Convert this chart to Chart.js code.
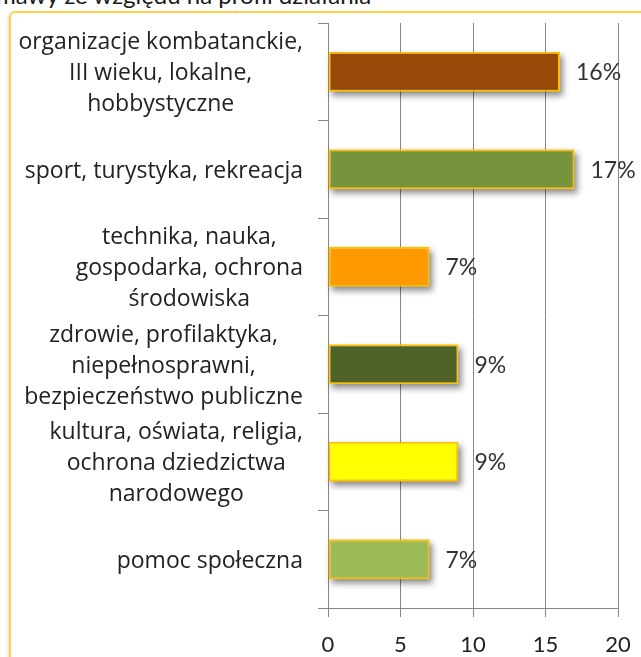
<!DOCTYPE html>
<html>
<head>
<meta charset="utf-8">
<script src="https://cdn.jsdelivr.net/npm/chart.js@4"></script>
<style>
  html, body { margin: 0; padding: 0; background: #fff; overflow: hidden; }
  #wrap { position: relative; width: 641px; height: 657px; overflow: hidden; }
  #title {
    position: absolute; left: -4px; top: -19px; white-space: nowrap;
    font: 24px Lato, sans-serif; color: #1a1a1a; line-height: 28px;
  }
  #frame {
    position: absolute; left: 9px; top: 11px; width: 720px; height: 720px;
    border: 2px solid #FFD24A; border-radius: 6px;
    box-shadow: -1px 1px 3px rgba(0,0,0,0.15);
  }
  #box { position: absolute; left: 0; top: 0; width: 641px; height: 657px; }
</style>
</head>
<body>
<div id="wrap">
  <div id="title">mawy ze względu na profil działania</div>
  <div id="frame"></div>
  <div id="box"><canvas id="chart"></canvas></div>
</div>
<script>
const categories = [
  ["organizacje kombatanckie,", "III wieku, lokalne,", "hobbystyczne"],
  ["sport, turystyka, rekreacja"],
  ["technika, nauka,", "gospodarka, ochrona", "środowiska"],
  ["zdrowie, profilaktyka,", "niepełnosprawni,", "bezpieczeństwo publiczne"],
  ["kultura, oświata, religia,", "ochrona dziedzictwa", "narodowego"],
  ["pomoc społeczna"]
]
const values = [16, 17, 7, 9, 9, 7]
const barColors = ["#984807", "#77933C", "#FF9900", "#4F6228", "#FFFF00", "#9BBB59"]
const xTicks = [0, 5, 10, 15, 20]

const labelFont = "23px 'Open Sans', sans-serif"
const axisColor = "#868686"

// soft shadow behind each bar, drawn from the bar elements
const shadowPlugin = {
  id: "shadow",
  beforeDatasetsDraw(chart) {
    const ctx = chart.ctx
    const meta = chart.getDatasetMeta(0)
    ctx.save()
    ctx.filter = "blur(3px)"
    ctx.fillStyle = "rgba(0,0,0,0.45)"
    meta.data.forEach(bar => {
      ctx.fillRect(bar.base + 3, bar.y - bar.height / 2 + 4, bar.x - bar.base, bar.height)
    })
    ctx.restore()
  }
}

// percent labels next to bars
const valueLabels = {
  id: "valueLabels",
  afterDatasetsDraw(chart) {
    const ctx = chart.ctx
    const meta = chart.getDatasetMeta(0)
    ctx.save()
    ctx.font = "23px Lato, sans-serif"
    ctx.fillStyle = "#333"
    ctx.textBaseline = "middle"
    ctx.textAlign = "left"
    meta.data.forEach((bar, i) => {
      ctx.fillText(values[i] + "%", bar.x + 16, bar.y + 1)
    })
    ctx.restore()
  }
}

// category labels: block right-aligned, lines centred inside the block
const catLabels = {
  id: "catLabels",
  afterDraw(chart) {
    const ctx = chart.ctx
    const y = chart.scales.y
    const lh = 31
    ctx.save()
    ctx.font = labelFont
    ctx.fillStyle = "#222"
    ctx.textBaseline = "middle"
    ctx.textAlign = "center"
    categories.forEach((lines, i) => {
      const w = Math.max(...lines.map(l => ctx.measureText(l).width))
      const cx = y.right - 25 - w / 2
      const cy = y.getPixelForValue(i) + 2
      lines.forEach((l, k) => {
        ctx.fillText(l, cx, cy + (k - (lines.length - 1) / 2) * lh)
      })
    })
    ctx.restore()
  }
}

new Chart(document.getElementById("chart"), {
  type: "bar",
  data: {
    labels: categories,
    datasets: [{
      data: values,
      backgroundColor: barColors,
      borderColor: "#FFC000",
      borderWidth: 2,
      borderSkipped: false,
      categoryPercentage: 1,
      barPercentage: 0.41
    }]
  },
  options: {
    indexAxis: "y",
    responsive: true,
    maintainAspectRatio: false,
    animation: false,
    layout: { padding: { top: 23, right: 23, left: 0, bottom: 0 } },
    plugins: {
      legend: { display: false },
      tooltip: { enabled: false }
    },
    scales: {
      x: {
        min: 0,
        max: 20,
        afterBuildTicks: s => { s.ticks = xTicks.map(v => ({ value: v })) },
        afterFit: s => { s.height = 49; s.paddingLeft = 0; s.paddingRight = 0 },
        grid: { color: axisColor, tickLength: 9 },
        border: { color: axisColor },
        ticks: { color: "#222", padding: 15, font: { family: "Lato", size: 22 } }
      },
      y: {
        afterFit: s => { s.width = 328 },
        grid: { color: axisColor, drawOnChartArea: false, tickLength: 10, offset: true },
        border: { color: axisColor },
        ticks: { display: false }
      }
    }
  },
  plugins: [shadowPlugin, valueLabels, catLabels]
})
</script>
</body>
</html>
